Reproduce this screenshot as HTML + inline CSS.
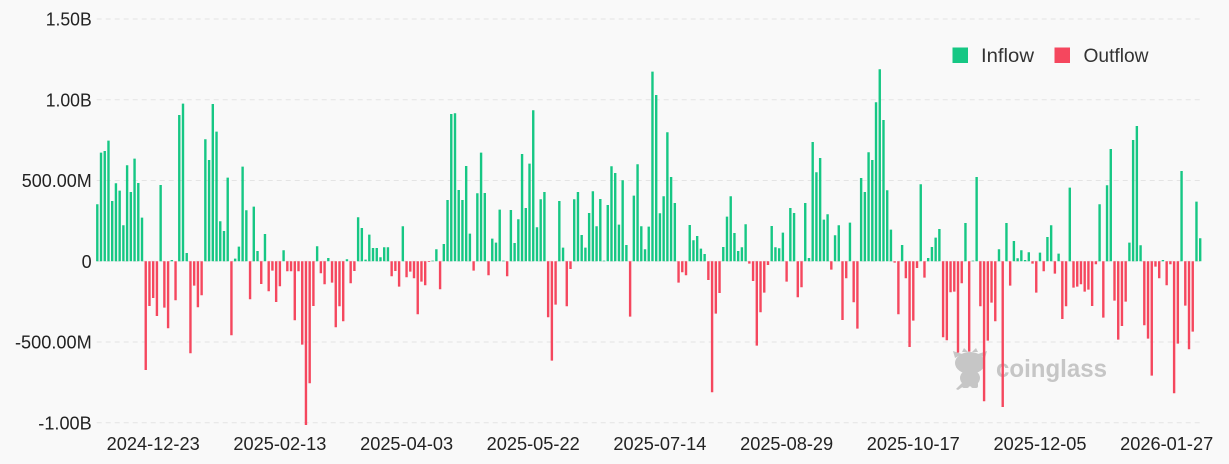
<!DOCTYPE html>
<html>
<head>
<meta charset="utf-8">
<style>
html,body{margin:0;padding:0;background:#f9f9f9;}
svg{display:block;}
text{font-family:"Liberation Sans",sans-serif;}
</style>
</head>
<body>
<svg width="1229" height="464" viewBox="0 0 1229 464" xmlns="http://www.w3.org/2000/svg">
<rect x="0" y="0" width="1229" height="464" fill="#f9f9f9"/>
<!-- grid -->
<g stroke="#e4e4e4" stroke-width="1" stroke-dasharray="5 4" fill="none">
<line x1="96.7" y1="19" x2="1203" y2="19"/>
<line x1="96.7" y1="99.8" x2="1203" y2="99.8"/>
<line x1="96.7" y1="180.5" x2="1203" y2="180.5"/>
<line x1="96.7" y1="261.3" x2="1203" y2="261.3"/>
<line x1="96.7" y1="342" x2="1203" y2="342"/>
<line x1="96.7" y1="422.8" x2="1203" y2="422.8"/>
</g>
<!-- y labels -->
<g fill="#222" font-size="18" text-anchor="end">
<text x="91.7" y="25.5" textLength="46" lengthAdjust="spacingAndGlyphs">1.50B</text>
<text x="91.7" y="106.3" textLength="46" lengthAdjust="spacingAndGlyphs">1.00B</text>
<text x="91.7" y="187" textLength="70" lengthAdjust="spacingAndGlyphs">500.00M</text>
<text x="91.7" y="267.8">0</text>
<text x="91.7" y="348.5" textLength="76.7" lengthAdjust="spacingAndGlyphs">-500.00M</text>
<text x="91.7" y="429.3" textLength="53.4" lengthAdjust="spacingAndGlyphs">-1.00B</text>
</g>
<!-- x labels -->
<g fill="#222" font-size="18" text-anchor="middle">
<text x="153.2" y="450" textLength="93" lengthAdjust="spacingAndGlyphs">2024-12-23</text>
<text x="279.9" y="450" textLength="93" lengthAdjust="spacingAndGlyphs">2025-02-13</text>
<text x="406.6" y="450" textLength="93" lengthAdjust="spacingAndGlyphs">2025-04-03</text>
<text x="533.2" y="450" textLength="93" lengthAdjust="spacingAndGlyphs">2025-05-22</text>
<text x="659.9" y="450" textLength="93" lengthAdjust="spacingAndGlyphs">2025-07-14</text>
<text x="786.6" y="450" textLength="93" lengthAdjust="spacingAndGlyphs">2025-08-29</text>
<text x="913.3" y="450" textLength="93" lengthAdjust="spacingAndGlyphs">2025-10-17</text>
<text x="1040" y="450" textLength="93" lengthAdjust="spacingAndGlyphs">2025-12-05</text>
<text x="1166.7" y="450" textLength="93" lengthAdjust="spacingAndGlyphs">2026-01-27</text>
</g>
<!-- watermark -->
<g fill="#c6c6c6">
<ellipse cx="970" cy="363" rx="15" ry="11"/>
<path d="M955 358 L953 351 L962 354 Z M985 358 L987 351 L978 354 Z"/>
<path d="M962 352 L964 348 L968 352 Z M972 352 L976 348 L978 352 Z"/>
<ellipse cx="970" cy="378" rx="10" ry="8.5"/>
<rect x="962" y="382" width="7" height="6" rx="2"/>
<rect x="971" y="382" width="7" height="6" rx="2"/>
<path d="M962 383 L956 389 L958 390 L964 386 Z"/>
<text x="996" y="377" font-size="25" font-weight="bold" textLength="111" lengthAdjust="spacingAndGlyphs">coinglass</text>
</g>
<!-- bars -->
<g transform="translate(96.1 261.3) scale(3.726 0.33333)">
<path fill="#16c784" d="M0 0V-171h.644V0M1 0V-326h.644V0M2 0V-331h.644V0M3 0V-362h.644V0M4 0V-181h.644V0M5 0V-234h.644V0M6 0V-212h.644V0M7 0V-108h.644V0M8 0V-288h.644V0M9 0V-208h.644V0M10 0V-308h.644V0M11 0V-235h.644V0M12 0V-131h.644V0M17 0V-229h.644V0M20 0V-4h.644V0M22 0V-439h.644V0M23 0V-473h.644V0M24 0V-25h.644V0M29 0V-366h.644V0M30 0V-304h.644V0M31 0V-472h.644V0M32 0V-389h.644V0M33 0V-120h.644V0M34 0V-91h.644V0M35 0V-251h.644V0M37 0V-8h.644V0M38 0V-44h.644V0M39 0V-284h.644V0M40 0V-153h.644V0M42 0V-164h.644V0M43 0V-31h.644V0M45 0V-82h.644V0M50 0V-33h.644V0M59 0V-45h.644V0M62 0V-10h.644V0M67 0V-6h.644V0M70 0V-132h.644V0M71 0V-100h.644V0M72 0V-5h.644V0M73 0V-80h.644V0M74 0V-40h.644V0M75 0V-40h.644V0M76 0V-12h.644V0M77 0V-42h.644V0M78 0V-42h.644V0M82 0V-105h.644V0M90 0V-2h.644V0M91 0V-36h.644V0M93 0V-52h.644V0M94 0V-184h.644V0M95 0V-442h.644V0M96 0V-444h.644V0M97 0V-214h.644V0M98 0V-184h.644V0M99 0V-286h.644V0M100 0V-83h.644V0M102 0V-204h.644V0M103 0V-326h.644V0M104 0V-205h.644V0M106 0V-68h.644V0M107 0V-56h.644V0M108 0V-155h.644V0M109 0V-2h.644V0M111 0V-154h.644V0M112 0V-55h.644V0M113 0V-126h.644V0M114 0V-322h.644V0M115 0V-160h.644V0M116 0V-293h.644V0M117 0V-453h.644V0M118 0V-102h.644V0M119 0V-186h.644V0M120 0V-208h.644V0M124 0V-181h.644V0M125 0V-41h.644V0M128 0V-186h.644V0M129 0V-208h.644V0M130 0V-79h.644V0M131 0V-41h.644V0M132 0V-145h.644V0M133 0V-210h.644V0M134 0V-105h.644V0M135 0V-187h.644V0M136 0V-2h.644V0M137 0V-169h.644V0M138 0V-285h.644V0M139 0V-265h.644V0M140 0V-110h.644V0M141 0V-243h.644V0M142 0V-49h.644V0M144 0V-197h.644V0M145 0V-291h.644V0M146 0V-105h.644V0M147 0V-36h.644V0M148 0V-104h.644V0M149 0V-569h.644V0M150 0V-499h.644V0M151 0V-144h.644V0M152 0V-195h.644V0M153 0V-387h.644V0M154 0V-253h.644V0M155 0V-175h.644V0M159 0V-109h.644V0M160 0V-63h.644V0M161 0V-76h.644V0M162 0V-38h.644V0M163 0V-22h.644V0M168 0V-43h.644V0M169 0V-134h.644V0M170 0V-195h.644V0M171 0V-85h.644V0M172 0V-31h.644V0M173 0V-42h.644V0M174 0V-111h.644V0M181 0V-106h.644V0M182 0V-42h.644V0M183 0V-39h.644V0M184 0V-86h.644V0M186 0V-160h.644V0M187 0V-145h.644V0M190 0V-175h.644V0M191 0V-10h.644V0M192 0V-358h.644V0M193 0V-267h.644V0M194 0V-310h.644V0M195 0V-125h.644V0M196 0V-141h.644V0M198 0V-78h.644V0M199 0V-108h.644V0M202 0V-116h.644V0M205 0V-250h.644V0M206 0V-208h.644V0M207 0V-327h.644V0M208 0V-304h.644V0M209 0V-477h.644V0M210 0V-576h.644V0M211 0V-424h.644V0M212 0V-213h.644V0M213 0V-95h.644V0M216 0V-49h.644V0M221 0V-231h.644V0M223 0V-10h.644V0M224 0V-43h.644V0M225 0V-71h.644V0M226 0V-97h.644V0M233 0V-115h.644V0M235 0V-2h.644V0M236 0V-253h.644V0M242 0V-36h.644V0M244 0V-115h.644V0M246 0V-61h.644V0M247 0V-9h.644V0M248 0V-33h.644V0M249 0V-4h.644V0M250 0V-27h.644V0M253 0V-26h.644V0M255 0V-73h.644V0M256 0V-108h.644V0M258 0V-23h.644V0M261 0V-221h.644V0M269 0V-171h.644V0M271 0V-228h.644V0M272 0V-337h.644V0M277 0V-56h.644V0M278 0V-364h.644V0M279 0V-406h.644V0M280 0V-48h.644V0M286 0V-4h.644V0M291 0V-271h.644V0M295 0V-179h.644V0M296 0V-69h.644V0"/>
<path fill="#f5475e" d="M13 0V326h.644V0M14 0V134h.644V0M15 0V110h.644V0M16 0V164h.644V0M18 0V139h.644V0M19 0V201h.644V0M21 0V117h.644V0M25 0V276h.644V0M26 0V73h.644V0M27 0V138h.644V0M28 0V102h.644V0M36 0V222h.644V0M41 0V114h.644V0M44 0V68h.644V0M46 0V90h.644V0M47 0V28h.644V0M48 0V122h.644V0M49 0V75h.644V0M51 0V30h.644V0M52 0V30h.644V0M53 0V177h.644V0M54 0V30h.644V0M55 0V250h.644V0M56 0V491h.644V0M57 0V366h.644V0M58 0V134h.644V0M60 0V36h.644V0M61 0V69h.644V0M63 0V64h.644V0M64 0V198h.644V0M65 0V135h.644V0M66 0V180h.644V0M68 0V66h.644V0M69 0V29h.644V0M79 0V45h.644V0M80 0V29h.644V0M81 0V76h.644V0M83 0V48h.644V0M84 0V31h.644V0M85 0V51h.644V0M86 0V159h.644V0M87 0V61h.644V0M88 0V72h.644V0M89 0V2h.644V0M92 0V84h.644V0M101 0V28h.644V0M105 0V42h.644V0M110 0V45h.644V0M121 0V168h.644V0M122 0V298h.644V0M123 0V130h.644V0M126 0V135h.644V0M127 0V23h.644V0M143 0V166h.644V0M156 0V64h.644V0M157 0V33h.644V0M158 0V42h.644V0M164 0V56h.644V0M165 0V393h.644V0M166 0V157h.644V0M167 0V95h.644V0M175 0V7h.644V0M176 0V59h.644V0M177 0V253h.644V0M178 0V153h.644V0M179 0V94h.644V0M180 0V11h.644V0M185 0V61h.644V0M188 0V108h.644V0M189 0V78h.644V0M197 0V25h.644V0M200 0V176h.644V0M201 0V51h.644V0M203 0V123h.644V0M204 0V202h.644V0M214 0V4h.644V0M215 0V159h.644V0M217 0V51h.644V0M218 0V257h.644V0M219 0V178h.644V0M220 0V20h.644V0M222 0V49h.644V0M227 0V228h.644V0M228 0V237h.644V0M229 0V93h.644V0M230 0V91h.644V0M231 0V274h.644V0M232 0V66h.644V0M234 0V271h.644V0M237 0V135h.644V0M238 0V420h.644V0M239 0V238h.644V0M240 0V124h.644V0M241 0V180h.644V0M243 0V437h.644V0M245 0V73h.644V0M251 0V7h.644V0M252 0V94h.644V0M254 0V30h.644V0M257 0V37h.644V0M259 0V173h.644V0M260 0V135h.644V0M262 0V79h.644V0M263 0V76h.644V0M264 0V69h.644V0M265 0V91h.644V0M266 0V85h.644V0M267 0V134h.644V0M268 0V9h.644V0M270 0V169h.644V0M273 0V118h.644V0M274 0V235h.644V0M275 0V194h.644V0M276 0V121h.644V0M281 0V192h.644V0M282 0V232h.644V0M283 0V343h.644V0M284 0V16h.644V0M285 0V51h.644V0M287 0V72h.644V0M288 0V9h.644V0M289 0V396h.644V0M290 0V247h.644V0M292 0V133h.644V0M293 0V264h.644V0M294 0V211h.644V0"/>
</g>
<!-- legend -->
<rect x="952.5" y="47.5" width="15.5" height="15.5" fill="#16c784"/>
<text x="981" y="62" font-size="19.5" fill="#333" textLength="53" lengthAdjust="spacingAndGlyphs">Inflow</text>
<rect x="1054.5" y="47.5" width="15.5" height="15.5" fill="#f5475e"/>
<text x="1083.5" y="62" font-size="19.5" fill="#333" textLength="65" lengthAdjust="spacingAndGlyphs">Outflow</text>
</svg>
</body>
</html>
